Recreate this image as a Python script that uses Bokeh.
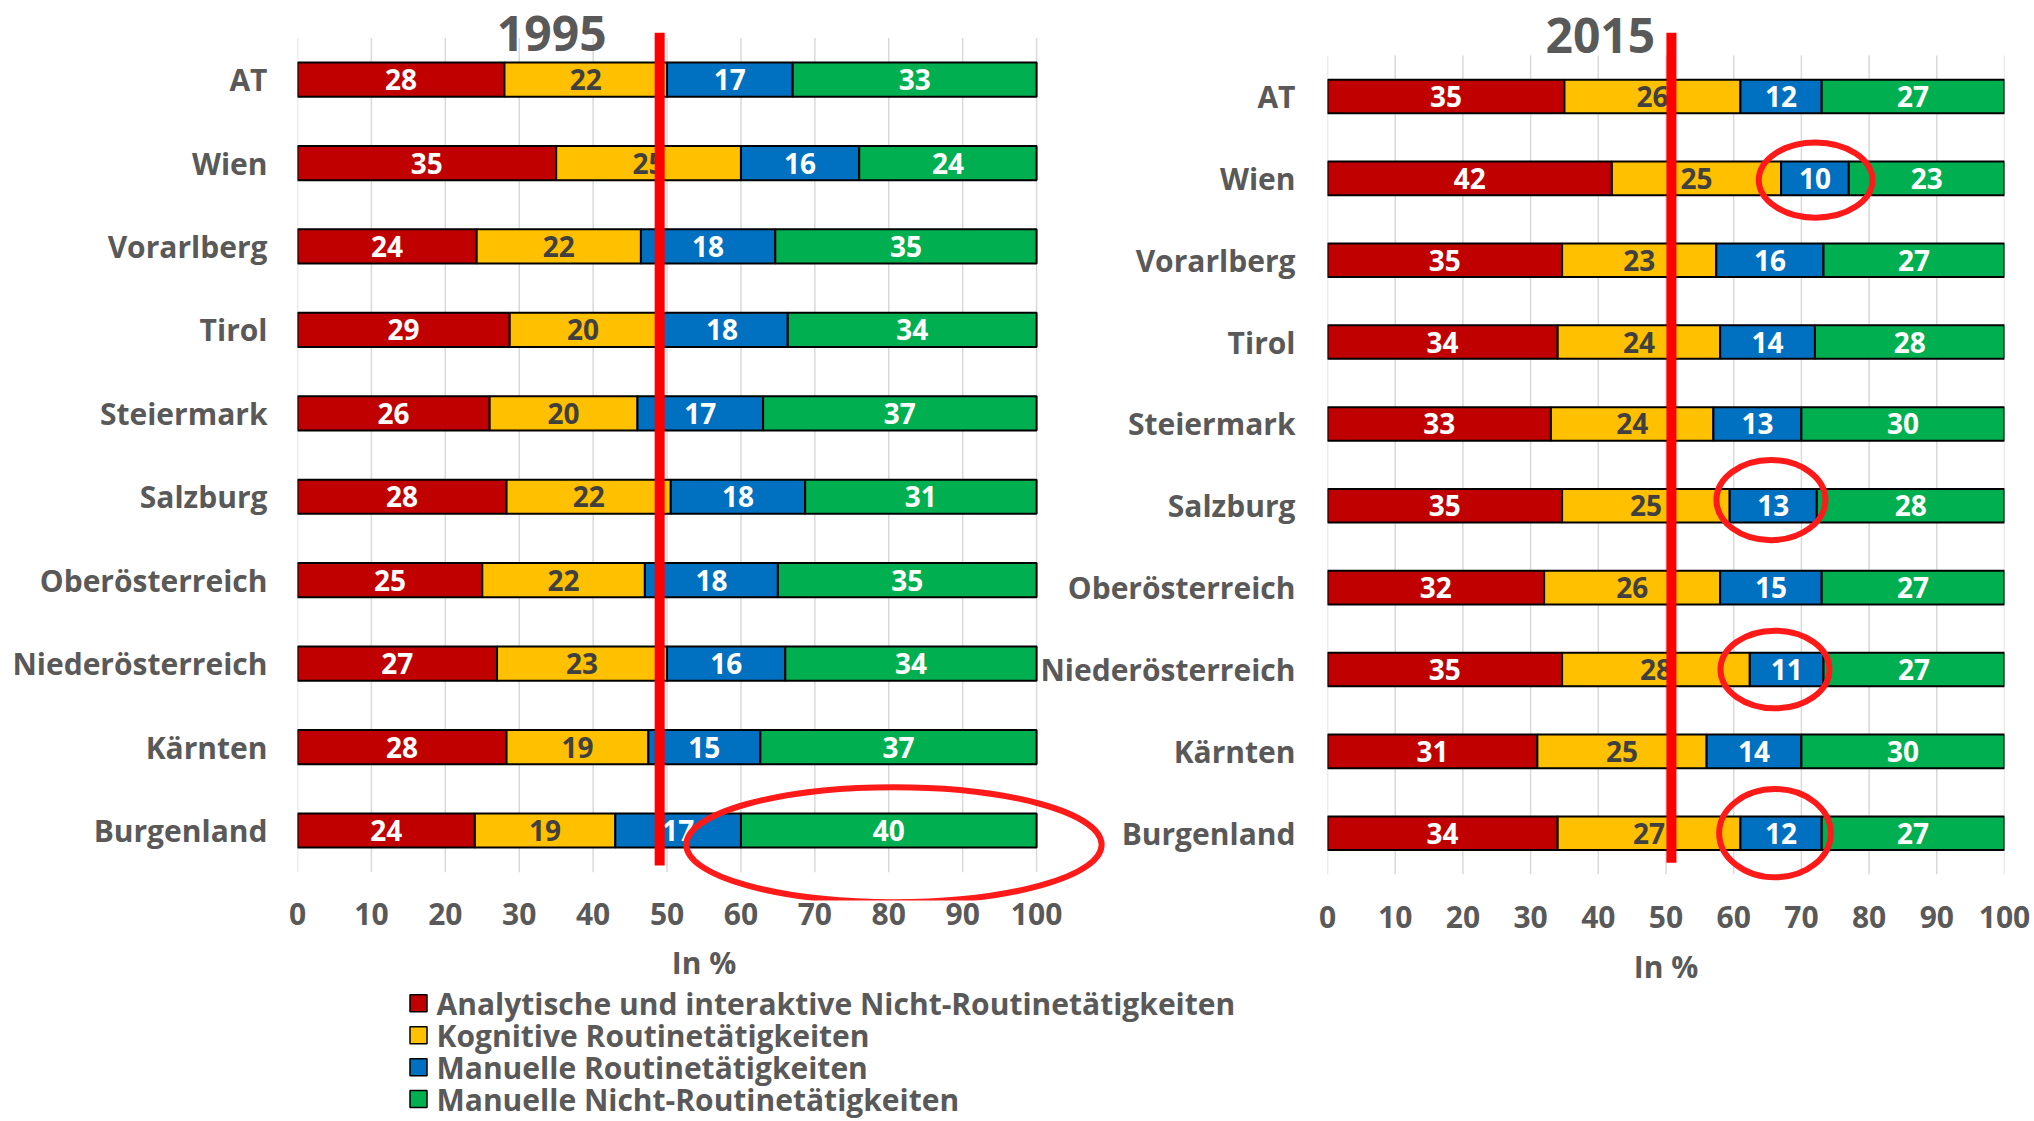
from bokeh.plotting import figure
from bokeh.layouts import row, column
from bokeh.models import ColumnDataSource, Range1d, FixedTicker, Label
from bokeh.core.properties import value
from bokeh.embed import file_html
from bokeh.resources import INLINE

FONT = "Open Sans"
GRAY = "#595959"

regions = ["AT", "Wien", "Vorarlberg", "Tirol", "Steiermark", "Salzburg",
           "Oberösterreich", "Niederösterreich", "Kärnten", "Burgenland"]
series = ["Analytische und interaktive Nicht-Routinetätigkeiten",
          "Kognitive Routinetätigkeiten",
          "Manuelle Routinetätigkeiten",
          "Manuelle Nicht-Routinetätigkeiten"]
colors = ["#C00000", "#FFC000", "#0070C0", "#00B050"]
label_colors = ["white", "#404040", "white", "white"]

analytic_1995 = [28, 35, 24, 29, 26, 28, 25, 27, 28, 24]
cognitive_1995 = [22, 25, 22, 20, 20, 22, 22, 23, 19, 19]
manual_routine_1995 = [17, 16, 18, 18, 17, 18, 18, 16, 15, 17]
manual_nonroutine_1995 = [33, 24, 35, 34, 37, 31, 35, 34, 37, 40]

analytic_2015 = [35, 42, 35, 34, 33, 35, 32, 35, 31, 34]
cognitive_2015 = [26, 25, 23, 24, 24, 25, 26, 28, 25, 27]
manual_routine_2015 = [12, 10, 16, 14, 13, 13, 15, 11, 14, 12]
manual_nonroutine_2015 = [27, 23, 27, 28, 30, 28, 27, 27, 30, 27]

x_ticks = [0, 10, 20, 30, 40, 50, 60, 70, 80, 90, 100]

# red reference lines near 50 % (x position, vertical extent in rows)
ref_line_1995 = 49.0
ref_line_1995_extent = (-0.42, 9.56)
ref_line_2015 = 50.8
ref_line_2015_extent = (-0.36, 9.78)

# circled cells: region, x centre, width (%), height (rows), vertical shift (rows)
hl_1995_regions = ["Burgenland"]
hl_1995_x = [80.7]
hl_1995_w = [56.2]
hl_1995_h = [1.38]
hl_1995_dy = [-0.17]

hl_2015_regions = ["Wien", "Salzburg", "Niederösterreich", "Burgenland"]
hl_2015_x = [72.1, 65.5, 66.1, 66.1]
hl_2015_w = [16.8, 16.1, 16.1, 16.5]
hl_2015_h = [0.92, 0.98, 0.95, 1.08]
hl_2015_dy = [-0.02, 0.07, 0.0, 0.0]

n = len(regions)
row_pos = [n - 1 - i for i in range(n)]          # AT on top
pos_of = dict(zip(regions, row_pos))

CHART_H = 1030


def build_chart(title, title_xy, vals, width, x_end, y_start, y_end, mb_left, mb_right,
                ref_x, ref_extent, hl, tick_standoff, label_standoff, cat_standoff):
    p = figure(width=width, height=CHART_H, title=None,
               x_range=Range1d(0, x_end), y_range=Range1d(y_start, y_end),
               output_backend="svg", toolbar_location=None,
               min_border_left=mb_left, min_border_right=mb_right,
               min_border_top=0, min_border_bottom=130)
    p.outline_line_color = None
    p.grid.grid_line_color = None

    # vertical grid lines at the x ticks, over the category bands
    p.segment(x0=x_ticks, x1=x_ticks, y0=[-0.5] * len(x_ticks),
              y1=[n - 0.5] * len(x_ticks), line_color="#D9D9D9", line_width=1.5)

    totals = [sum(c) for c in zip(*vals)]
    cum = [0] * n
    for i, sv in enumerate(vals):
        left = [c / t * 100 for c, t in zip(cum, totals)]
        cum = [c + v for c, v in zip(cum, sv)]
        right = [c / t * 100 for c, t in zip(cum, totals)]
        src = ColumnDataSource(dict(y=row_pos, left=left, right=right,
                                    mid=[(a + b) / 2 for a, b in zip(left, right)],
                                    lab=[str(v) for v in sv]))
        p.hbar(y="y", left="left", right="right", height=0.41, source=src,
               fill_color=colors[i], line_color="black", line_width=2)
        p.text(x="mid", y="y", text="lab", source=src, text_font=value(FONT),
               text_font_style="bold", text_font_size="28px", text_color=label_colors[i],
               text_align="center", text_baseline="middle")

    p.segment(x0=[ref_x], x1=[ref_x], y0=[ref_extent[0]], y1=[ref_extent[1]],
              line_color="#FF0000", line_width=10)

    regs, xs, ws, hs, dys = hl
    p.ellipse(x=xs, y=[pos_of[r] + d for r, d in zip(regs, dys)], width=ws, height=hs,
              fill_alpha=0, line_color="#FF1A1A", line_width=6)

    p.add_layout(Label(x=title_xy[0], y=title_xy[1], text=title, text_font=FONT,
                       text_font_style="bold", text_font_size="48px", text_color=GRAY,
                       text_align="center", text_baseline="middle"))

    p.xaxis.ticker = FixedTicker(ticks=x_ticks)
    p.yaxis.ticker = FixedTicker(ticks=row_pos)
    p.yaxis.major_label_overrides = {pos_of[r]: r for r in regions}
    p.xaxis.axis_label = "In %"
    for ax in (p.xaxis, p.yaxis):
        ax.axis_line_color = None
        ax.major_tick_line_color = None
        ax.minor_tick_line_color = None
        ax.major_label_text_font = FONT
        ax.major_label_text_font_style = "bold"
        ax.major_label_text_font_size = "30px"
        ax.major_label_text_color = GRAY
    p.xaxis.major_label_standoff = tick_standoff
    p.xaxis.axis_label_standoff = label_standoff
    p.xaxis.axis_label_text_font = FONT
    p.xaxis.axis_label_text_font_style = "bold"
    p.xaxis.axis_label_text_font_size = "30px"
    p.xaxis.axis_label_text_color = GRAY
    p.yaxis.major_label_standoff = cat_standoff
    return p


left = build_chart("1995", (34.4, 9.55),
                   [analytic_1995, cognitive_1995, manual_routine_1995, manual_nonroutine_1995],
                   width=1110, x_end=110, y_start=-0.839, y_end=9.948,
                   mb_left=297, mb_right=0,
                   ref_x=ref_line_1995, ref_extent=ref_line_1995_extent,
                   hl=(hl_1995_regions, hl_1995_x, hl_1995_w, hl_1995_h, hl_1995_dy),
                   tick_standoff=-4, label_standoff=14, cat_standoff=24)

right = build_chart("2015", (40.3, 9.75),
                    [analytic_2015, cognitive_2015, manual_routine_2015, manual_nonroutine_2015],
                    width=1004, x_end=100, y_start=-0.822, y_end=10.173,
                    mb_left=297, mb_right=30,
                    ref_x=ref_line_2015, ref_extent=ref_line_2015_extent,
                    hl=(hl_2015_regions, hl_2015_x, hl_2015_w, hl_2015_h, hl_2015_dy),
                    tick_standoff=-1, label_standoff=15, cat_standoff=26)
right.background_fill_alpha = 0
right.border_fill_alpha = 0
right.margin = (0, 0, 0, -80)

# legend (drawn below both charts)
legend_x = 418
legend_pos = [len(series) - 1 - i for i in range(len(series))]
leg = figure(width=2034, height=141, title=None, x_range=Range1d(0, 2034),
             y_range=Range1d(-0.7, 3.71), output_backend="svg",
             toolbar_location=None, min_border=0)
leg.axis.visible = False
leg.grid.grid_line_color = None
leg.outline_line_color = None
leg.background_fill_alpha = 0
leg.border_fill_alpha = 0
leg.margin = (-50, 0, 0, 0)
lsrc = ColumnDataSource(dict(y=legend_pos, name=series, c=colors,
                             x=[legend_x] * len(series)))
leg.scatter(x="x", y="y", marker="square", size=17, fill_color="c", line_color="black",
            line_width=1.5, source=lsrc)
leg.text(x="x", y="y", text="name", x_offset=18, source=lsrc, text_font=value(FONT),
         text_font_style="bold", text_font_size="30px", text_color=GRAY,
         text_align="left", text_baseline="middle")

layout = column(row(left, right), leg)
open("out.html", "w").write(file_html(layout, INLINE))
